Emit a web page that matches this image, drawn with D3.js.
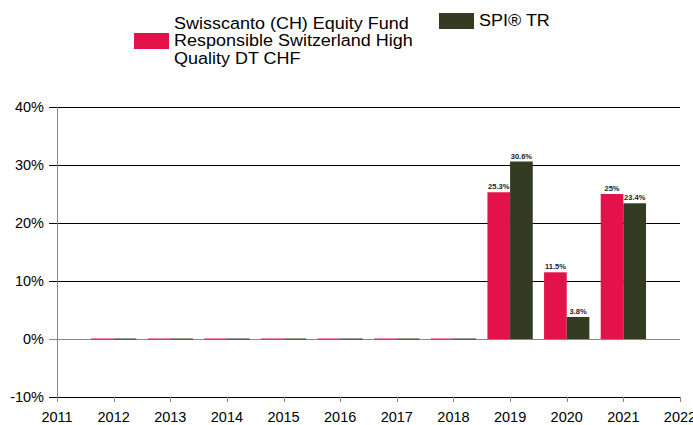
<!DOCTYPE html>
<html>
<head>
<meta charset="utf-8">
<script src="https://cdn.jsdelivr.net/npm/d3@7"></script>
<style>
	body { margin: 0; background: #fff; }
	svg { display: block; font-family: "Liberation Sans", Arial, sans-serif; }
</style>
</head>
<body>
<div id="chart"></div>
<script>
const years = [2012, 2013, 2014, 2015, 2016, 2017, 2018, 2019, 2020, 2021];
const fund = [0, 0, 0, 0, 0, 0, 0, 25.3, 11.5, 25];
const spi = [0, 0, 0, 0, 0, 0, 0, 30.6, 3.8, 23.4];
const xTicks = [2011, 2012, 2013, 2014, 2015, 2016, 2017, 2018, 2019, 2020, 2021, 2022];
const yTicks = [-10, 0, 10, 20, 30, 40];
const seriesNames = ["Swisscanto (CH) Equity Fund|Responsible Switzerland High|Quality DT CHF", "SPI® TR"];
const colors = ["#e3124b", "#333b22"];

const width = 693, height = 425;

let scale = {
	x: d3.scaleLinear().domain([2011, 2022]).range([57, 680]),
	y: d3.scaleLinear().domain([-10, 40]).range([397, 107])
};

let svg = d3.select("#chart").append("svg")
	.attr("width", width)
	.attr("height", height);

// grid lines
svg.append("g")
	.selectAll("line")
	.data(yTicks)
	.enter().append("line")
	.attr("x1", scale.x(2011) - 8)
	.attr("x2", scale.x(2022))
	.attr("y1", d => Math.round(scale.y(d)) + 0.5)
	.attr("y2", d => Math.round(scale.y(d)) + 0.5)
	.attr("stroke", d => d === 0 ? "#888" : "#000")
	.attr("stroke-width", 1);

// y labels
svg.append("g")
	.selectAll("text")
	.data(yTicks)
	.enter().append("text")
	.attr("x", 44)
	.attr("y", d => scale.y(d))
	.attr("dy", "0.35em")
	.attr("text-anchor", "end")
	.attr("font-size", 14.5)
	.attr("fill", "#000")
	.text(d => d + "%");

// left axis
svg.append("line")
	.attr("x1", Math.round(scale.x(2011)) + 0.5)
	.attr("x2", Math.round(scale.x(2011)) + 0.5)
	.attr("y1", scale.y(40))
	.attr("y2", scale.y(-10))
	.attr("stroke", "#888");

// x ticks
let xAxis = svg.append("g");
xAxis.selectAll("line")
	.data(xTicks)
	.enter().append("line")
	.attr("x1", d => Math.round(scale.x(d)) + 0.5)
	.attr("x2", d => Math.round(scale.x(d)) + 0.5)
	.attr("y1", scale.y(-10))
	.attr("y2", scale.y(-10) + 5)
	.attr("stroke", "#888");
xAxis.selectAll("text")
	.data(xTicks)
	.enter().append("text")
	.attr("x", d => scale.x(d))
	.attr("y", 422)
	.attr("text-anchor", "middle")
	.attr("font-size", 14.5)
	.text(d => d);

// bars
let step = scale.x(1) - scale.x(0);
let bw = step * 0.4;
let series = [fund, spi];

series.forEach((vals, i) => {
	let g = svg.append("g").attr("class", "series");
	let rows = years.map((y, j) => ({ year: y, value: vals[j] }));
	g.selectAll("rect")
		.data(rows)
		.enter().append("rect")
		.attr("x", d => scale.x(d.year) - bw + i * bw)
		.attr("width", bw)
		.attr("y", d => d.value === 0 ? scale.y(0) - 0.5 : scale.y(d.value))
		.attr("height", d => d.value === 0 ? 1 : scale.y(0) - scale.y(d.value))
		.attr("fill", colors[i]);

	g.selectAll("text")
		.data(rows.filter(d => d.value !== 0))
		.enter().append("text")
		.attr("x", d => scale.x(d.year) - bw + i * bw + bw / 2)
		.attr("y", d => scale.y(d.value) - 3)
		.attr("text-anchor", "middle")
		.attr("font-size", 7.5)
		.attr("font-weight", "bold")
		.attr("fill", "#222")
		.text(d => d.value + "%");
});

// legend (text is a little wider than the plain font, so stretch it)
let legend = svg.append("g");
legend.append("rect")
	.attr("x", 134).attr("y", 33).attr("width", 35).attr("height", 16)
	.attr("fill", colors[0]);
legend.append("text")
	.attr("transform", "translate(174,29) scale(1.09,1)")
	.attr("font-size", 16.5)
	.selectAll("tspan")
	.data(seriesNames[0].split("|"))
	.enter().append("tspan")
	.attr("x", 0)
	.attr("dy", (d, i) => i === 0 ? 0 : 17.5)
	.text(d => d);

legend.append("rect")
	.attr("x", 439).attr("y", 13).attr("width", 35).attr("height", 16)
	.attr("fill", colors[1]);
legend.append("text")
	.attr("transform", "translate(479,26) scale(1.09,1)")
	.attr("font-size", 16.5)
	.text(seriesNames[1]);
</script>
</body>
</html>
